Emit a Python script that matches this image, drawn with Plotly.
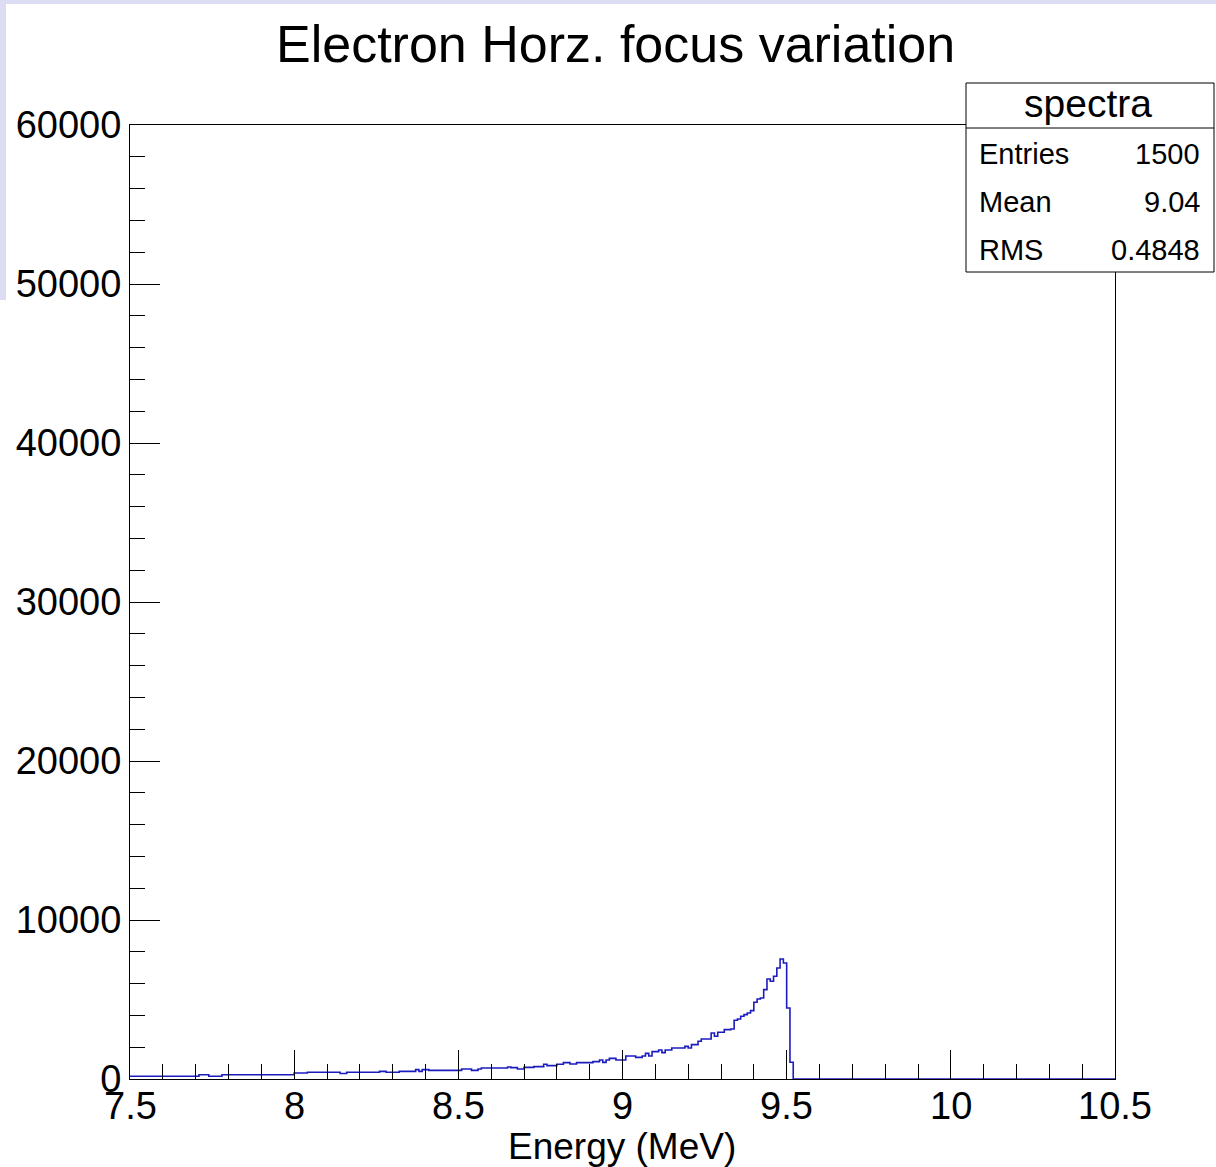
import plotly.graph_objects as go

# ---------------- data ----------------
x_min, x_max, bin_width = 7.5, 10.5, 0.01
counts_nonzero = [
    170, 170, 170, 170, 170, 170, 170, 170, 170, 170,
    170, 170, 170, 170, 170, 170, 170, 170, 170, 170,
    170, 270, 270, 270, 170, 170, 170, 170, 270, 270,
    270, 270, 270, 270, 270, 270, 270, 270, 270, 270,
    270, 270, 270, 270, 270, 270, 270, 270, 270, 270,
    380, 380, 380, 380, 420, 420, 420, 420, 420, 420,
    420, 420, 420, 420, 350, 350, 420, 420, 420, 420,
    420, 420, 420, 420, 420, 420, 480, 480, 420, 420,
    420, 420, 480, 480, 480, 480, 480, 590, 480, 590,
    590, 545, 545, 545, 545, 545, 545, 545, 545, 545,
    545, 630, 630, 630, 545, 545, 630, 690, 690, 690,
    690, 690, 690, 690, 690, 755, 713, 713, 629, 629,
    734, 734, 734, 776, 776, 776, 923, 839, 839, 839,
    923, 923, 1027, 1027, 944, 944, 1027, 1027, 1027, 1027,
    1027, 1090, 1090, 1195, 1048, 1195, 1300, 1300, 1195, 1195,
    1195, 1447, 1447, 1447, 1363, 1363, 1447, 1614, 1447, 1719,
    1719, 1824, 1656, 1824, 1824, 1950, 1950, 1950, 1950, 2055,
    1950, 2160, 2160, 2370, 2516, 2516, 2516, 2894, 2684, 2936,
    2936, 3104, 3104, 3146, 3691, 3775, 3942, 4047, 4152, 4299,
    4823, 5033, 5096, 5620, 6291, 6144, 6459, 6983, 7549, 7298,
    4467, 1049,
]
n_bins = 300
counts = counts_nonzero + [0] * (n_bins - len(counts_nonzero))

x_ticks = [7.5, 8, 8.5, 9, 9.5, 10, 10.5]
x_tick_labels = ["7.5", "8", "8.5", "9", "9.5", "10", "10.5"]
y_ticks = [0, 10000, 20000, 30000, 40000, 50000, 60000]
y_tick_labels = ["0", "10000", "20000", "30000", "40000", "50000", "60000"]

title_text = "Electron Horz. focus variation"
x_title = "Energy (MeV)"
stats_name = "spectra"
stats_labels = ["Entries", "Mean", "RMS"]
stats_values = ["1500", "9.04", "0.4848"]

# ---------------- figure ----------------
W, H = 1216, 1167
L, R, T, B = 130, 1115, 125, 1079  # plot frame in pixels
FONT = "Liberation Sans, Arial, Helvetica, sans-serif"


def px(xp):
    return (xp - L) / (R - L)


def py(yp):
    return (B - yp) / (B - T)


edges = [x_min + bin_width * k for k in range(n_bins + 1)]
fig = go.Figure()
fig.add_trace(go.Scatter(
    x=edges,
    y=counts + [counts[-1]],
    mode="lines",
    line=dict(shape="hv", color="rgb(28,28,190)", width=1.6),
    hoverinfo="skip",
    showlegend=False,
))

axis_common = dict(
    showgrid=False, zeroline=False, showline=True, linecolor="black",
    linewidth=1, mirror=True, ticks="inside", tickcolor="black",
    tickwidth=1,
)
fig.update_xaxes(
    range=[x_min, x_max], tickvals=x_ticks, ticktext=x_tick_labels,
    ticklen=29, showticklabels=False,
    minor=dict(dtick=0.1, tick0=7.5, ticks="inside", ticklen=15,
               tickcolor="black", tickwidth=1, showgrid=False),
    **axis_common,
)
fig.update_yaxes(
    range=[0, 60000], tickvals=y_ticks, ticktext=y_tick_labels,
    ticklen=30, ticklabelstandoff=0,
    tickfont=dict(family=FONT, size=38, color="black"),
    minor=dict(dtick=2000, tick0=0, ticks="inside", ticklen=15,
               tickcolor="black", tickwidth=1, showgrid=False),
    **axis_common,
)

shapes = []
annotations = []

# x tick labels placed on the x axis scale
for tv, tl in zip(x_ticks, x_tick_labels):
    annotations.append(dict(text=tl, xref="x", yref="paper",
                            x=tv, y=py(1106), xanchor="center", yanchor="middle",
                            showarrow=False,
                            font=dict(family=FONT, size=38, color="black")))

# lavender screenshot border
lav = "rgb(220,220,242)"
shapes.append(dict(type="rect", xref="paper", yref="paper",
                   x0=px(0), x1=px(W), y0=py(0), y1=py(4),
                   fillcolor=lav, line=dict(width=0), layer="below"))
shapes.append(dict(type="rect", xref="paper", yref="paper",
                   x0=px(0), x1=px(6), y0=py(0), y1=py(300),
                   fillcolor=lav, line=dict(width=0), layer="below"))

# stats box
bx0, bx1, by0, by1, bdiv = 966, 1214, 83, 272, 128
shapes.append(dict(type="rect", xref="paper", yref="paper",
                   x0=px(bx0), x1=px(bx1), y0=py(by0), y1=py(by1),
                   fillcolor="white", line=dict(color="black", width=1),
                   layer="above"))
shapes.append(dict(type="line", xref="paper", yref="paper",
                   x0=px(bx0), x1=px(bx1), y0=py(bdiv), y1=py(bdiv),
                   line=dict(color="black", width=1), layer="above"))

annotations.append(dict(text=stats_name, xref="paper", yref="paper",
                        x=px(1088), y=py(104), xanchor="center", yanchor="middle",
                        showarrow=False, font=dict(family=FONT, size=39, color="black")))
row_y = [154, 202, 250]
for lab, val, ry in zip(stats_labels, stats_values, row_y):
    annotations.append(dict(text=lab, xref="paper", yref="paper",
                            x=px(977), y=py(ry), xanchor="left", yanchor="middle",
                            showarrow=False, font=dict(family=FONT, size=29, color="black")))
    annotations.append(dict(text=val, xref="paper", yref="paper",
                            x=px(1202), y=py(ry), xanchor="right", yanchor="middle",
                            showarrow=False, font=dict(family=FONT, size=29, color="black")))

# title
annotations.append(dict(text=title_text, xref="paper", yref="paper",
                        x=px(615), y=py(44), xanchor="center", yanchor="middle",
                        showarrow=False, font=dict(family=FONT, size=52, color="black")))
# x axis title
annotations.append(dict(text=x_title, xref="paper", yref="paper",
                        x=px(622), y=py(1146), xanchor="center", yanchor="middle",
                        showarrow=False, font=dict(family=FONT, size=37, color="black")))

fig.update_layout(
    width=W, height=H, autosize=False,
    margin=dict(l=L, r=W - R, t=T, b=H - B, pad=0),
    paper_bgcolor="white", plot_bgcolor="white",
    shapes=shapes, annotations=annotations,
    font=dict(family=FONT, color="black"),
)

fig.write_html("out.html")
